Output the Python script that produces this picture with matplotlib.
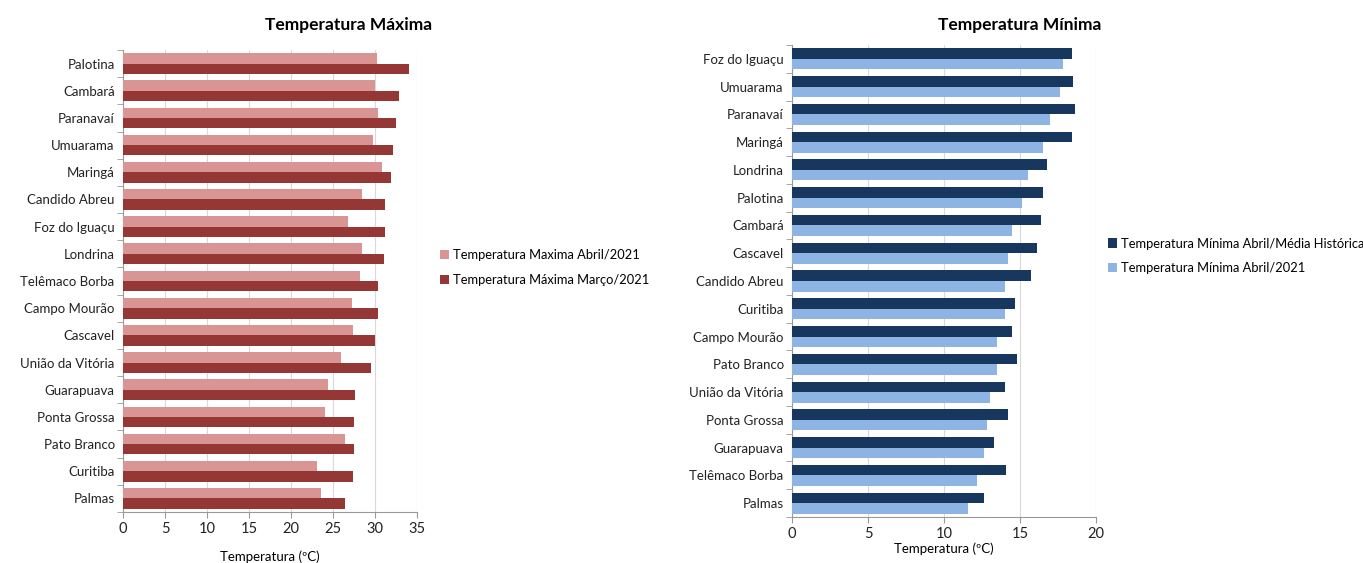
import matplotlib.pyplot as plt
import numpy as np

plt.rcParams['font.family'] = ['Lato', 'DejaVu Sans']

# Temperatura Máxima (top to bottom)
cidades_max = ["Palotina", "Cambará", "Paranavaí", "Umuarama", "Maringá", "Candido Abreu",
               "Foz do Iguaçu", "Londrina", "Telêmaco Borba", "Campo Mourão", "Cascavel",
               "União da Vitória", "Guarapuava", "Ponta Grossa", "Pato Branco", "Curitiba", "Palmas"]
max_abril = [30.2, 30.0, 30.3, 29.8, 30.8, 28.4, 26.8, 28.5, 28.2, 27.3, 27.4,
             26.0, 24.4, 24.1, 26.4, 23.1, 23.6]
max_marco = [34.1, 32.9, 32.5, 32.1, 31.9, 31.2, 31.2, 31.1, 30.4, 30.4, 30.0,
             29.5, 27.6, 27.5, 27.5, 27.4, 26.4]

# Temperatura Mínima (top to bottom)
cidades_min = ["Foz do Iguaçu", "Umuarama", "Paranavaí", "Maringá", "Londrina", "Palotina",
               "Cambará", "Cascavel", "Candido Abreu", "Curitiba", "Campo Mourão", "Pato Branco",
               "União da Vitória", "Ponta Grossa", "Guarapuava", "Telêmaco Borba", "Palmas"]
min_historica = [18.4, 18.5, 18.6, 18.4, 16.8, 16.5, 16.4, 16.1, 15.7, 14.7, 14.5, 14.8,
                 14.0, 14.2, 13.3, 14.1, 12.6]
min_abril = [17.8, 17.6, 17.0, 16.5, 15.5, 15.1, 14.5, 14.2, 14.0, 14.0, 13.5, 13.5,
             13.0, 12.8, 12.6, 12.2, 11.6]


def draw(ax, cats, top_vals, bot_vals, top_color, bot_color, top_label, bot_label, xmax, step):
    n = len(cats)
    y = np.arange(n)
    h = 0.38
    ax.barh(y - h / 2, top_vals, height=h, color=top_color, label=top_label, zorder=3)
    ax.barh(y + h / 2, bot_vals, height=h, color=bot_color, label=bot_label, zorder=3)
    ax.set_ylim(n - 0.5, -0.5)
    ax.set_xlim(0, xmax)
    ax.set_xticks(np.arange(0, xmax + 1, step))
    ax.set_yticks(y)
    ax.set_yticklabels(cats, fontsize=9.5, color="#222222")
    ax.set_yticks(np.arange(-0.5, n, 1), minor=True)
    ax.tick_params(axis="y", which="major", length=0, pad=6)
    ax.tick_params(axis="y", which="minor", length=4, color="#999999")
    ax.tick_params(axis="x", length=4, color="#999999", labelsize=10.5, labelcolor="#222222")
    ax.grid(axis="x", color="#d9d9d9", linewidth=0.8, zorder=0)
    for s in ["top", "right"]:
        ax.spines[s].set_visible(False)
    for s in ["left", "bottom"]:
        ax.spines[s].set_color("#999999")


fig = plt.figure(figsize=(13.63, 5.63), dpi=100)

ax1 = fig.add_axes([123 / 1363, 1 - 512 / 563, 294 / 1363, 462 / 563])
draw(ax1, cidades_max, max_abril, max_marco, "#d99594", "#953735",
     "Temperatura Maxima Abril/2021", "Temperatura Máxima Março/2021", 35, 5)
ax1.set_xlabel("Temperatura (ºC)", fontsize=9.5, labelpad=10)
ax1.legend(loc="center left", bbox_to_anchor=(1.04, 0.53), frameon=False, fontsize=9.3,
           handlelength=0.7, handleheight=0.7, handletextpad=0.3, labelspacing=1.0)
fig.text(349 / 1363, 1 - 25 / 563, "Temperatura Máxima", ha="center", va="center",
         fontsize=12.5, fontweight="bold")

ax2 = fig.add_axes([792 / 1363, 1 - 517 / 563, 304 / 1363, 472 / 563])
draw(ax2, cidades_min, min_historica, min_abril, "#17375e", "#8db4e2",
     "Temperatura Mínima Abril/Média Histórica", "Temperatura Mínima Abril/2021", 20, 5)
ax2.set_xlabel("Temperatura (ºC)", fontsize=9.5, labelpad=1)
ax2.legend(loc="center left", bbox_to_anchor=(1.0, 0.553), frameon=False, fontsize=9.3,
           handlelength=0.7, handleheight=0.7, handletextpad=0.3, labelspacing=1.0)
fig.text(1020 / 1363, 1 - 25 / 563, "Temperatura Mínima", ha="center", va="center",
         fontsize=12.5, fontweight="bold")

fig.savefig("out.png", dpi=100)
